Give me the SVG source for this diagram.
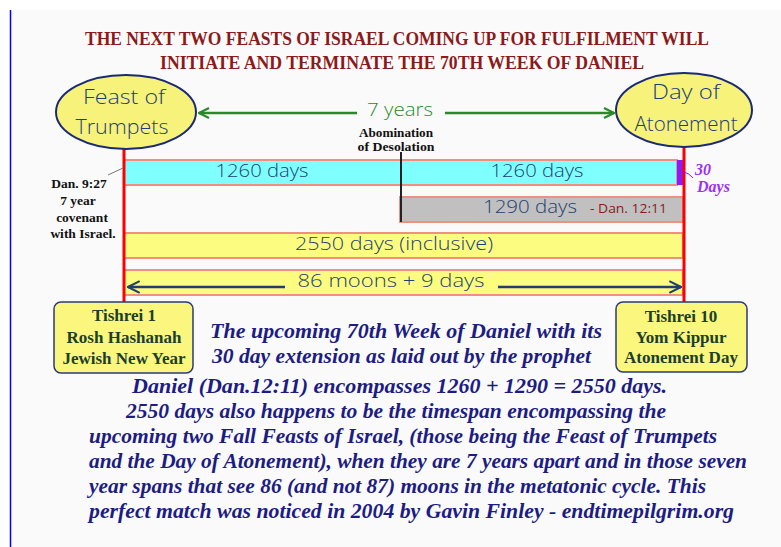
<svg xmlns="http://www.w3.org/2000/svg" width="781" height="547" viewBox="0 0 781 547">
<style>
.title{font-family:"Liberation Serif",serif;font-weight:bold;font-size:18px;fill:#8b1a1a;text-anchor:middle}
.pap{font-family:"Open Sans","DejaVu Sans",sans-serif;font-weight:300;fill:#1f3c78;text-anchor:middle}
.bar{font-family:"Open Sans","DejaVu Sans",sans-serif;font-weight:300;fill:#1f3f6f;font-size:18px;text-anchor:middle}
.note{font-family:"Liberation Serif",serif;font-weight:bold;font-size:13.5px;fill:#111;text-anchor:middle}
.box{font-family:"Liberation Serif",serif;font-weight:bold;font-size:17px;fill:#1a3f2a;text-anchor:middle}
.para{font-family:"Liberation Serif",serif;font-weight:bold;font-style:italic;font-size:21px;fill:#1c1c84}
.ell{fill:#f6f27a;stroke:#1a2a78;stroke-width:2}
.rbox{fill:#fbf67e;stroke:#2a3a7a;stroke-width:1.5}
.barr{stroke:#f09080;stroke-width:2}
.red{stroke:#ff0000;stroke-width:3}
</style>
<defs>
<marker id="ga" viewBox="0 0 12 12" refX="11" refY="6" markerWidth="12" markerHeight="12" markerUnits="userSpaceOnUse" orient="auto-start-reverse">
<path d="M1,1 L11,6 L1,11" fill="none" stroke="#2a8a2a" stroke-width="2.2"/>
</marker>
<marker id="na" viewBox="0 0 12 12" refX="11" refY="6" markerWidth="14" markerHeight="14" markerUnits="userSpaceOnUse" orient="auto-start-reverse">
<path d="M1,1 L11,6 L1,11" fill="none" stroke="#1f3f6f" stroke-width="1.8"/>
</marker>
</defs>
<rect x="0" y="0" width="781" height="547" fill="#ffffff"/>
<rect x="11" y="10" width="770" height="537" fill="#fafafa"/>
<line x1="10.5" y1="10" x2="10.5" y2="547" stroke="#0000ff" stroke-width="1.5"/>

<g id="title">
<text class="title" x="397" y="45" textLength="624" lengthAdjust="spacingAndGlyphs">THE NEXT TWO FEASTS OF ISRAEL COMING UP FOR FULFILMENT WILL</text>
<text class="title" x="402" y="69" textLength="484" lengthAdjust="spacingAndGlyphs">INITIATE AND TERMINATE THE 70TH WEEK OF DANIEL</text>
</g>

<g id="bars">
<rect class="barr" x="124" y="160" width="553" height="25" fill="#80ffff"/>
<rect x="677" y="160" width="6" height="25" fill="#8a1aff"/>
<rect class="barr" x="400" y="197" width="283" height="25" fill="#c0c0c0"/>
<rect class="barr" x="124" y="233" width="559" height="25" fill="#fcfc80"/>
<rect class="barr" x="124" y="270" width="559" height="25" fill="#fcfc80"/>
<text class="bar" x="262" y="177" textLength="93" lengthAdjust="spacingAndGlyphs">1260 days</text>
<text class="bar" x="537" y="177" textLength="93" lengthAdjust="spacingAndGlyphs">1260 days</text>
<text class="bar" x="530" y="213" textLength="94" lengthAdjust="spacingAndGlyphs">1290 days</text>
<text x="590" y="213" font-family="Open Sans,DejaVu Sans,sans-serif" font-size="13" fill="#8b1a1a" textLength="77" lengthAdjust="spacingAndGlyphs">- Dan. 12:11</text>
<text class="bar" x="394" y="250" textLength="198" lengthAdjust="spacingAndGlyphs">2550 days (inclusive)</text>
<text class="bar" x="391" y="287" textLength="187" lengthAdjust="spacingAndGlyphs">86  moons  +  9  days</text>
</g>

<g id="connectors">
<line class="red" x1="124" y1="146" x2="124" y2="302"/>
<line class="red" x1="684" y1="146" x2="684" y2="302"/>
<line x1="357" y1="113" x2="199" y2="113" stroke="#2a8a2a" stroke-width="2.5" marker-end="url(#ga)"/>
<line x1="445" y1="113" x2="614" y2="113" stroke="#2a8a2a" stroke-width="2.5" marker-end="url(#ga)"/>
<line x1="401" y1="152" x2="401" y2="222" stroke="#222" stroke-width="2"/>
<line x1="285" y1="287" x2="128" y2="287" stroke="#1f3f6f" stroke-width="2.5" marker-end="url(#na)"/>
<line x1="498" y1="287" x2="681" y2="287" stroke="#1f3f6f" stroke-width="2.5" marker-end="url(#na)"/>
<line x1="108" y1="175" x2="123" y2="168" stroke="#777" stroke-width="1"/>
<path d="M684,172 Q689,173 693,178" fill="none" stroke="#8a1aff" stroke-width="1"/>
</g>

<g id="feast-of-trumpets">
<ellipse class="ell" cx="126" cy="112" rx="70" ry="37"/>
<text class="pap" x="124" y="104" font-size="21" textLength="82" lengthAdjust="spacingAndGlyphs">Feast of</text>
<text class="pap" x="122" y="134" font-size="21" textLength="93" lengthAdjust="spacingAndGlyphs">Trumpets</text>
</g>

<g id="day-of-atonement">
<ellipse class="ell" cx="684" cy="110" rx="68" ry="37"/>
<text class="pap" x="686" y="99" font-size="21" textLength="68" lengthAdjust="spacingAndGlyphs">Day of</text>
<text class="pap" x="686" y="131" font-size="21" textLength="103" lengthAdjust="spacingAndGlyphs">Atonement</text>
</g>

<g id="seven-years">
<text x="400" y="116" font-family="Open Sans,DejaVu Sans,sans-serif" font-weight="300" font-size="19" fill="#2a8a2a" text-anchor="middle" textLength="66" lengthAdjust="spacingAndGlyphs">7 years</text>
</g>

<g id="abomination">
<text class="note" x="396" y="137" font-size="11.5" textLength="74" lengthAdjust="spacingAndGlyphs">Abomination</text>
<text class="note" x="396" y="151" font-size="11.5" textLength="77" lengthAdjust="spacingAndGlyphs">of Desolation</text>
</g>

<g id="thirty-days">
<text x="695" y="175" font-family="Liberation Serif,serif" font-weight="bold" font-style="italic" font-size="16" fill="#9b30ff">30</text>
<text x="697" y="192" font-family="Liberation Serif,serif" font-weight="bold" font-style="italic" font-size="16" fill="#9b30ff">Days</text>
</g>

<g id="covenant">
<text class="note" x="79" y="188">Dan. 9:27</text>
<text class="note" x="78" y="205">7 year</text>
<text class="note" x="82" y="222">covenant</text>
<text class="note" x="83" y="238">with Israel.</text>
</g>

<g id="tishrei-1">
<rect class="rbox" x="54" y="302" width="139" height="71" rx="7"/>
<text class="box" x="124" y="321">Tishrei 1</text>
<text class="box" x="124" y="343">Rosh Hashanah</text>
<text class="box" x="124" y="364">Jewish New Year</text>
</g>

<g id="tishrei-10">
<rect class="rbox" x="616" y="302" width="131" height="70" rx="7"/>
<text class="box" x="681" y="322">Tishrei 10</text>
<text class="box" x="681" y="343">Yom Kippur</text>
<text class="box" x="681" y="363">Atonement Day</text>
</g>

<g id="paragraph">
<text class="para" x="210" y="338" textLength="392" lengthAdjust="spacingAndGlyphs">The upcoming  70th Week of Daniel with its</text>
<text class="para" x="212" y="363" textLength="379" lengthAdjust="spacingAndGlyphs">30 day extension as laid out by the prophet</text>
<text class="para" x="132" y="393" textLength="535" lengthAdjust="spacingAndGlyphs">Daniel (Dan.12:11) encompasses 1260 + 1290 =  2550  days.</text>
<text class="para" x="126" y="418" textLength="540" lengthAdjust="spacingAndGlyphs">2550 days also happens to be the timespan encompassing the</text>
<text class="para" x="89" y="443" textLength="628" lengthAdjust="spacingAndGlyphs">upcoming two Fall Feasts of Israel, (those being the Feast of Trumpets</text>
<text class="para" x="89" y="468" textLength="658" lengthAdjust="spacingAndGlyphs">and the Day of Atonement), when they are 7 years apart and in those seven</text>
<text class="para" x="89" y="493" textLength="617" lengthAdjust="spacingAndGlyphs">year spans that see 86 (and not 87) moons in the metatonic cycle. This</text>
<text class="para" x="89" y="518" textLength="645" lengthAdjust="spacingAndGlyphs">perfect match was noticed in 2004 by Gavin Finley - endtimepilgrim.org</text>
</g>
</svg>
